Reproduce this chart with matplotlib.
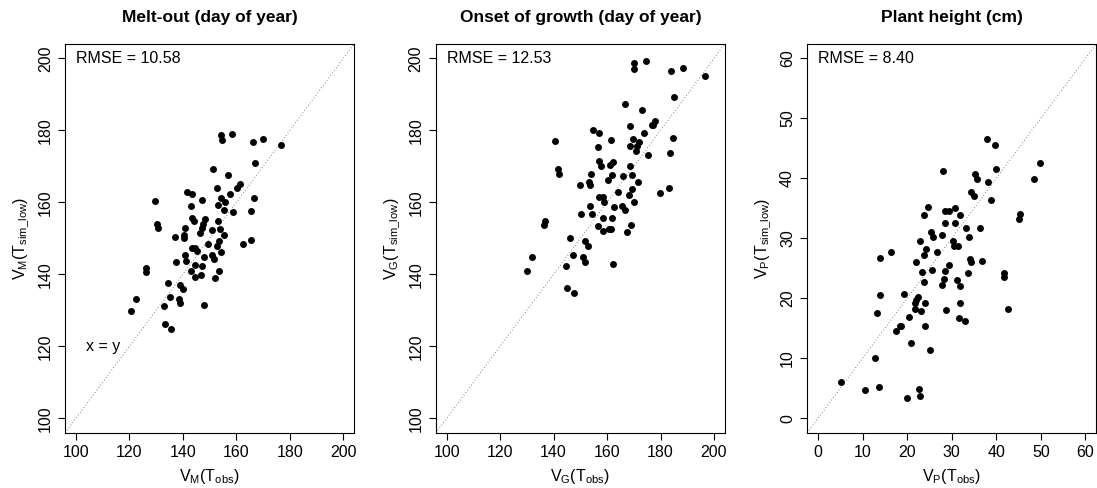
import numpy as np
import matplotlib
matplotlib.use("Agg")
import matplotlib.pyplot as plt

plt.rcParams['font.family'] = ['Liberation Sans', 'DejaVu Sans']
plt.rcParams['mathtext.fontset'] = 'custom'
plt.rcParams['mathtext.rm'] = 'Liberation Sans'
plt.rcParams['mathtext.it'] = 'Liberation Sans'
plt.rcParams['mathtext.default'] = 'regular'

# melt-out (day of year): observed vs simulated
melt_obs = [129.7, 154.4, 154.5, 158.3, 166.2, 169.8, 176.7, 167.1, 151.4, 156.9,
            161.2, 160.1, 152.9, 141.5, 143.5, 157.5, 166.7, 147.1, 154.2, 155.8,
            143.1, 153.0, 155.3, 158.8, 165.6, 143.3, 148.1,
            144.1, 147.4, 153.3, 130.4, 130.7, 140.7, 147.1, 150.8, 153.9, 146.5,
            155.5, 140.3, 137.0, 140.4, 153.4, 149.5, 152.9, 162.5, 165.6, 143.5,
            144.7, 145.1, 154.4, 140.6, 148.0, 150.8, 151.5, 137.4, 141.3, 144.5,
            147.3, 126.3, 126.2, 143.0, 144.5, 146.8, 153.4, 152.1, 134.3, 139.0,
            139.9, 122.3, 135.3, 138.4, 138.9, 133.1, 147.8, 120.4, 133.2, 135.7]
melt_sim = [160.4, 178.6, 177.3, 179.1, 176.9, 177.5, 175.9, 170.9, 169.2, 167.7,
            165.2, 164.0, 164.1, 163.0, 162.4, 162.3, 161.3, 160.7, 161.1, 160.2,
            159.1, 159.3, 157.9, 157.2, 157.7, 155.7, 155.4,
            154.7, 154.1, 154.7, 153.9, 152.9, 152.9, 152.9, 152.2, 152.7, 151.5,
            150.9, 151.0, 150.3, 150.1, 149.3, 148.5, 147.9, 148.3, 149.5, 147.4,
            147.3, 146.4, 146.3, 145.3, 144.9, 145.4, 144.3, 143.4, 143.6, 142.5,
            142.4, 141.7, 140.7, 140.8, 139.4, 139.8, 140.8, 139.0, 137.6, 137.0,
            136.0, 133.2, 133.8, 133.1, 132.1, 131.3, 131.6, 129.9, 126.1, 124.9]

# onset of growth (day of year)
grow_obs = [170.2, 170.2, 174.5, 184.1, 188.3, 196.5, 185.0, 166.7, 172.9, 178.1,
            176.8, 177.3, 154.8, 157.1, 168.4, 173.8, 140.6, 161.4, 169.7, 171.8,
            156.8, 168.4, 171.3, 170.8, 175.2, 184.7, 183.5, 157.0, 162.4, 157.9,
            161.2, 168.6, 141.7, 142.0, 154.0, 161.7, 160.5, 165.8, 169.4, 153.4,
            153.7, 149.7, 171.4, 164.2, 169.2, 168.2, 179.7, 183.3,
            157.0, 158.5, 159.0, 170.2, 153.8, 162.5, 165.7, 166.7, 150.1, 154.5,
            158.5, 161.7, 136.9, 136.6, 156.8, 168.9, 160.6, 161.4, 158.4, 167.3,
            146.3, 151.9, 152.9, 132.1, 147.3, 151.1, 151.7, 144.7, 162.4, 129.9,
            144.9, 147.7]
grow_sim = [198.6, 197.0, 199.2, 196.6, 197.2, 195.2, 189.4, 187.4, 185.6, 182.6,
            181.4, 181.6, 180.0, 179.3, 181.3, 179.2, 177.0, 177.3, 177.6, 176.9,
            175.3, 175.6, 175.6, 174.4, 173.1, 178.0, 173.7, 171.4, 171.1, 170.0,
            170.4, 170.1, 169.3, 168.0, 167.9, 167.7, 166.3, 167.4, 167.7, 165.7,
            164.8, 164.9, 165.7, 162.8, 163.7, 162.1, 162.7, 164.1,
            161.5, 161.5, 160.2, 160.2, 159.1, 158.6, 159.1, 157.8, 156.9, 156.9,
            155.6, 155.6, 154.7, 153.6, 153.5, 153.7, 152.7, 152.6, 152.0, 151.7,
            150.0, 149.2, 148.0, 144.7, 145.4, 144.7, 143.4, 142.4, 142.8, 140.8,
            136.2, 134.8]

# plant height (cm)
height_obs = [37.9, 39.7, 49.8, 28.0, 35.2, 35.6, 39.9, 48.4, 38.1, 34.3,
              35.0, 38.8, 24.7, 23.7, 28.6, 29.3, 30.8, 31.8, 45.3, 45.1,
              28.5, 30.7, 33.3, 36.3, 25.3, 27.9, 25.8, 33.8, 22.8, 30.4,
              30.6, 31.5, 24.2, 16.4, 26.8, 13.9, 23.7, 22.0, 29.4, 34.1,
              34.3, 36.7,
              23.3, 25.7, 28.6, 33.7, 41.7, 41.8, 23.8, 28.3, 27.9, 31.1,
              31.8, 13.9, 19.4, 22.4, 22.0, 21.8, 24.0, 21.8, 23.1, 28.8,
              31.9, 42.6, 13.2, 20.4, 31.6, 33.1, 18.3, 18.7, 17.4, 24.1,
              20.9, 25.2, 12.9, 5.2, 10.6, 13.6, 19.9, 22.7, 22.9]
height_sim = [46.5, 45.6, 42.5, 41.2, 40.8, 39.9, 41.5, 39.9, 39.4, 37.7,
              37.0, 36.4, 35.3, 33.9, 34.6, 34.6, 35.0, 33.9, 34.0, 33.2,
              32.6, 32.6, 31.7, 31.7, 31.1, 30.6, 30.2, 30.3, 29.5, 29.6,
              28.7, 28.7, 28.2, 27.8, 27.7, 26.8, 27.2, 26.0, 25.5, 26.5,
              26.0, 26.3,
              24.4, 24.7, 24.5, 24.3, 24.2, 23.5, 22.8, 23.2, 22.2, 23.0,
              22.0, 20.5, 20.8, 20.2, 19.7, 19.2, 19.2, 18.2, 17.9, 18.1,
              19.3, 18.3, 17.6, 16.9, 16.7, 16.3, 15.4, 15.4, 14.5, 15.4,
              12.5, 11.4, 10.0, 6.0, 4.7, 5.2, 3.4, 4.9, 3.8]

titles = ["Melt-out (day of year)", "Onset of growth (day of year)", "Plant height (cm)"]
rmse_txt = ["RMSE = 10.58", "RMSE = 12.53", "RMSE = 8.40"]
letters = ["M", "G", "P"]
ranges = [(100, 200), (100, 200), (0, 60)]
steps = [20, 20, 10]
obs_all = [melt_obs, grow_obs, height_obs]
sim_all = [melt_sim, grow_sim, height_sim]

fs = 11.5

fig = plt.figure(figsize=(10.97, 4.88), dpi=100)
lefts = [0.0595, 0.3974, 0.7359]

for i in range(3):
    ax = fig.add_axes([lefts[i], 0.1133, 0.2632, 0.7965])
    lo, hi = ranges[i]
    pad = 0.04 * (hi - lo)
    ax.plot([lo - pad, hi + pad], [lo - pad, hi + pad], color="#333333",
            lw=0.7, linestyle=(0, (0.6, 2.6)))
    ax.plot(obs_all[i], sim_all[i], "o", color="black", ms=5.0, mew=0)
    ax.set_xlim(lo - pad, hi + pad)
    ax.set_ylim(lo - pad, hi + pad)
    ticks = np.arange(lo, hi + 1, steps[i])
    ax.set_xticks(ticks)
    ax.set_yticks(ticks)
    ax.tick_params(direction="out", length=4.8, width=0.8, labelsize=fs, pad=4)
    ax.tick_params(axis="y", labelrotation=90)
    for lab in ax.get_yticklabels():
        lab.set_va("center")
    for sp in ax.spines.values():
        sp.set_linewidth(0.8)
    ax.set_title(titles[i], fontsize=12.5, fontweight="bold", pad=16)
    ax.text(lo, hi, rmse_txt[i], fontsize=fs, ha="left", va="center")
    L = letters[i]
    ax.set_xlabel(r"$V_%s(T_{obs})$" % L, fontsize=fs, labelpad=5)
    ax.set_ylabel(r"$V_%s(T_{sim\_low})$" % L, fontsize=fs, labelpad=5)
    if i == 0:
        ax.text(110, 120, "x = y", fontsize=fs, ha="center", va="center")

fig.savefig("out.png", dpi=100)
